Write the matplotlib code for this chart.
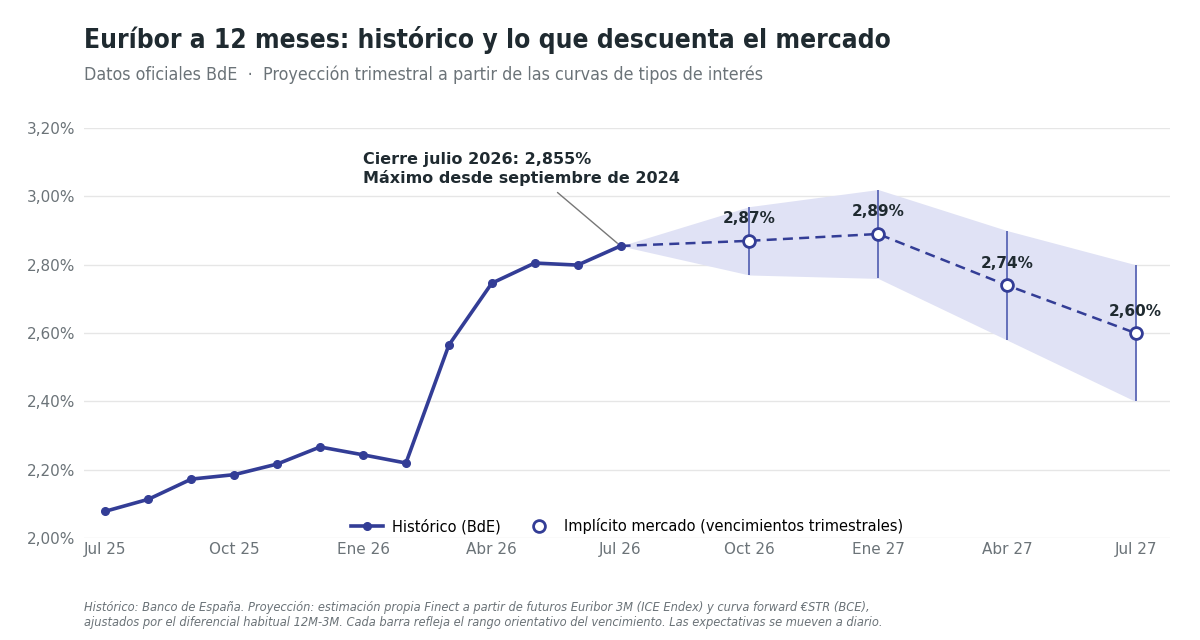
import matplotlib
matplotlib.use("Agg")
import matplotlib.pyplot as plt
import numpy as np
from matplotlib.ticker import FuncFormatter

# ---- data ----
hist_labels = ["Jul 25", "Ago 25", "Sep 25", "Oct 25", "Nov 25", "Dic 25", "Ene 26",
               "Feb 26", "Mar 26", "Abr 26", "May 26", "Jun 26", "Jul 26"]
hist_values = [2.079, 2.114, 2.173, 2.186, 2.217, 2.267, 2.244, 2.220, 2.565,
               2.746, 2.805, 2.799, 2.855]
proj_labels = ["Oct 26", "Ene 27", "Abr 27", "Jul 27"]
proj_values = [2.87, 2.89, 2.74, 2.60]
proj_low = [2.77, 2.76, 2.58, 2.40]
proj_high = [2.97, 3.02, 2.90, 2.80]
tick_labels = ["Jul 25", "Oct 25", "Ene 26", "Abr 26", "Jul 26", "Oct 26", "Ene 27", "Abr 27", "Jul 27"]
y_ticks = [2.0, 2.2, 2.4, 2.6, 2.8, 3.0, 3.2]

# ---- style ----
NAVY = "#333d96"
BAND = "#e0e2f5"
ERR = "#5b66b5"
DARK = "#1f2a30"
GRAY = "#6b7378"
GRID = "#e6e6e6"

fig = plt.figure(figsize=(12, 6.4), dpi=100)
ax = fig.add_axes([0.07, 0.159, 0.905, 0.641])

x_hist = np.arange(len(hist_values))
x_proj = np.array([len(hist_values) - 1 + 3 * (i + 1) for i in range(len(proj_values))])
x_band = np.concatenate([[x_hist[-1]], x_proj])
band_low = np.concatenate([[hist_values[-1]], proj_low])
band_high = np.concatenate([[hist_values[-1]], proj_high])

ax.fill_between(x_band, band_low, band_high, color=BAND, lw=0, zorder=1)
ax.vlines(x_proj, proj_low, proj_high, color=ERR, lw=1.3, zorder=2)
ax.plot(np.concatenate([[x_hist[-1]], x_proj]),
        np.concatenate([[hist_values[-1]], proj_values]),
        color=NAVY, lw=1.8, ls=(0, (4, 2.5)), zorder=3)
ax.plot(x_hist, hist_values, color=NAVY, lw=2.6, marker="o", ms=5.5,
        zorder=4, label="Histórico (BdE)")
ax.plot(x_proj, proj_values, ls="none", marker="o", ms=8.5, mfc="white",
        mec=NAVY, mew=2, zorder=5, label="Implícito mercado (vencimientos trimestrales)")

for xv, yv in zip(x_proj, proj_values):
    ax.annotate(f"{yv:.2f}%".replace(".", ","), (xv, yv), xytext=(0, 10.5),
                textcoords="offset points", ha="center", va="bottom",
                fontsize=11, fontweight="bold", color=DARK, zorder=6)

ax.annotate("Cierre julio 2026: 2,855%\nMáximo desde septiembre de 2024",
            xy=(x_hist[-1], hist_values[-1]), xytext=(6.0, 3.03),
            ha="left", va="bottom", fontsize=11.5, fontweight="bold", color=DARK,
            linespacing=1.25,
            arrowprops=dict(arrowstyle="-", color="#777777", lw=1,
                            relpos=(0.59, 0), shrinkA=4, shrinkB=3), zorder=6)

ax.set_xlim(-0.5, 24.8)
ax.set_ylim(2.0, 3.2)
ax.set_yticks(y_ticks)
ax.yaxis.set_major_formatter(FuncFormatter(lambda v, p: f"{v:.2f}%".replace(".", ",")))
ax.set_xticks(np.arange(0, 25, 3))
ax.set_xticklabels(tick_labels)
ax.tick_params(axis="both", length=0, labelsize=11, labelcolor=GRAY)
ax.tick_params(axis="y", pad=6)
ax.tick_params(axis="x", pad=3)
ax.grid(axis="y", color=GRID, lw=1)
ax.set_axisbelow(True)
for s in ax.spines.values():
    s.set_visible(False)

ax.legend(loc="lower center", bbox_to_anchor=(0.5, -0.022), ncol=2, frameon=False,
          fontsize=10.5, handlelength=2.2, columnspacing=1.5, handletextpad=0.6)

fig.text(0.07, 0.937, "Euríbor a 12 meses: histórico y lo que descuenta el mercado",
         fontsize=18.9, fontweight="bold", color=DARK, ha="left", va="center",
         fontstretch="condensed")
fig.text(0.07, 0.883, "Datos oficiales BdE  ·  Proyección trimestral a partir de las curvas de tipos de interés",
         fontsize=12.8, color=GRAY, ha="left", va="center", fontstretch="condensed")
fig.text(0.07, 0.039, "Histórico: Banco de España. Proyección: estimación propia Finect a partir de futuros Euribor 3M (ICE Endex) y curva forward €STR (BCE),\n"
         "ajustados por el diferencial habitual 12M-3M. Cada barra refleja el rango orientativo del vencimiento. Las expectativas se mueven a diario.",
         fontsize=9.2, style="italic", color=GRAY, ha="left", va="center",
         fontstretch="condensed", linespacing=1.22)

fig.savefig("out.png", dpi=100)
